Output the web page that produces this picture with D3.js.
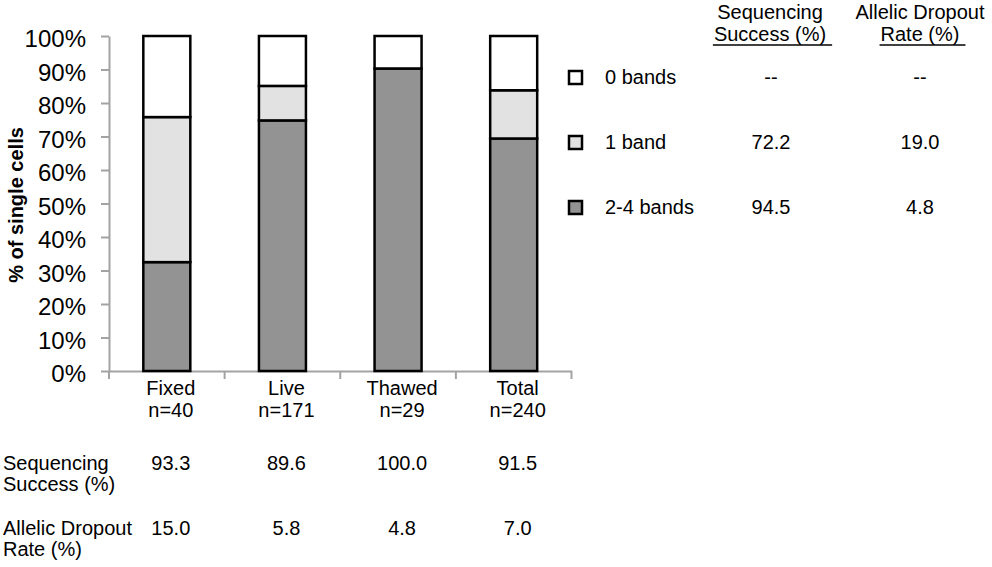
<!DOCTYPE html>
<html>
<head>
<meta charset="utf-8">
<script src="https://cdn.jsdelivr.net/npm/d3@7"></script>
<style>
  body { margin: 0; background: #fff; }
  svg { display: block; font-family: "Liberation Sans", Arial, sans-serif; }
</style>
</head>
<body>
<div class="chart"></div>
<script>
const categories = ['Fixed', 'Live', 'Thawed', 'Total'];
const sampleSizes = ['n=40', 'n=171', 'n=29', 'n=240'];
const twoFourBands = [32.5, 74.8, 90.3, 69.4];
const oneBand = [43.3, 10.3, 0, 14.4];
const zeroBands = [24.2, 14.9, 9.7, 16.2];
const seqSuccess = ['93.3', '89.6', '100.0', '91.5'];
const dropoutRate = ['15.0', '5.8', '4.8', '7.0'];
const yTicks = [0, 10, 20, 30, 40, 50, 60, 70, 80, 90, 100];
const legendLabels = ['0 bands', '1 band', '2-4 bands'];
const legendSeq = ['--', '72.2', '94.5'];
const legendAdo = ['--', '19.0', '4.8'];

const width = 992, height = 567;
const axisColor = '#a3a3a3';
const fills = { two: '#939393', one: '#e1e2e1', zero: '#ffffff' };

function draw_chart() {
    let svg = d3.select('.chart')
        .append('svg')
        .attr('width', width)
        .attr('height', height);

    let x = d3.scaleBand()
        .domain(categories)
        .range([109, 571.5])
        .padding(0);

    let y = d3.scaleLinear()
        .domain([0, 100])
        .range([371, 36]);

    let rows = categories.map((c, i) => ({
        cat: c, two: twoFourBands[i], one: oneBand[i], zero: zeroBands[i]
    }));
    let stack = d3.stack().keys(['two', 'one', 'zero']);
    let series = stack(rows);

    const barW = 47;

    // y axis
    let yAxis = svg.append('g')
        .attr('transform', 'translate(109,0)')
        .call(d3.axisLeft(y).tickValues(yTicks).tickFormat(d => d + '%')
            .tickSizeInner(8).tickSizeOuter(0).tickPadding(15));
    yAxis.select('.domain').attr('stroke', axisColor).attr('stroke-width', 2);
    yAxis.selectAll('.tick line').attr('stroke', axisColor).attr('stroke-width', 2);
    yAxis.selectAll('.tick text')
        .attr('font-size', 24)
        .attr('fill', '#000')
        .attr('font-family', '"Liberation Sans", Arial, sans-serif')
        .attr('dy', '0.45em');

    // x axis
    let xAxis = svg.append('g')
        .attr('transform', 'translate(0,371)')
        .call(d3.axisBottom(x).tickSize(0).tickFormat(''));
    xAxis.select('.domain').attr('stroke', axisColor).attr('stroke-width', 2);

    let bounds = categories.map(c => x(c)).concat([x(categories[categories.length - 1]) + x.bandwidth()]);
    svg.append('g')
        .selectAll('line')
        .data(bounds)
        .join('line')
        .attr('x1', d => d).attr('x2', d => d)
        .attr('y1', 371).attr('y2', 379)
        .attr('stroke', axisColor)
        .attr('stroke-width', 2);

    // bars
    svg.append('g')
        .selectAll('g')
        .data(series)
        .join('g')
        .attr('fill', d => fills[d.key])
        .selectAll('rect')
        .data(d => d.filter(s => s[1] - s[0] > 0))
        .join('rect')
        .attr('x', d => x(d.data.cat) + x.bandwidth() / 2 - barW / 2)
        .attr('y', d => y(d[1]))
        .attr('width', barW)
        .attr('height', d => y(d[0]) - y(d[1]))
        .attr('stroke', '#000')
        .attr('stroke-width', 2.5);

    // category labels
    let lab = svg.append('g')
        .attr('font-size', 20)
        .attr('text-anchor', 'middle')
        .selectAll('text')
        .data(categories)
        .join('text')
        .attr('transform', d => `translate(${x(d) + x.bandwidth() / 2 + 4}, 0)`);
    lab.append('tspan').attr('x', 0).attr('y', 395).text(d => d);
    lab.append('tspan').attr('x', 0).attr('y', 416.5).text((d, i) => sampleSizes[i]);

    // y label
    svg.append('text')
        .attr('transform', 'translate(23,205) rotate(-90)')
        .attr('text-anchor', 'middle')
        .attr('font-size', 20)
        .attr('font-weight', 'bold')
        .text('% of single cells');

    // bottom table
    let tbl = svg.append('g').attr('font-size', 20);
    tbl.append('text')
        .call(t => t.append('tspan').attr('x', 3).attr('y', 470).text('Sequencing'))
        .call(t => t.append('tspan').attr('x', 3).attr('y', 491).text('Success (%)'));
    tbl.append('text')
        .call(t => t.append('tspan').attr('x', 3).attr('y', 535).text('Allelic Dropout'))
        .call(t => t.append('tspan').attr('x', 3).attr('y', 556).text('Rate (%)'));

    tbl.selectAll('text.seq')
        .data(seqSuccess)
        .join('text')
        .attr('class', 'seq')
        .attr('text-anchor', 'middle')
        .attr('x', (d, i) => x(categories[i]) + x.bandwidth() / 2 + 4)
        .attr('y', 470)
        .text(d => d);
    tbl.selectAll('text.ado')
        .data(dropoutRate)
        .join('text')
        .attr('class', 'ado')
        .attr('text-anchor', 'middle')
        .attr('x', (d, i) => x(categories[i]) + x.bandwidth() / 2 + 4)
        .attr('y', 535)
        .text(d => d);

    // legend + side table
    const seqX = 771, adoX = 920;
    let ly = d3.scalePoint().domain(legendLabels).range([77.5, 207.5]);
    let legend = svg.append('g').attr('font-size', 20);
    let items = legend.selectAll('g')
        .data(legendLabels)
        .join('g')
        .attr('transform', d => `translate(0, ${ly(d)})`);
    items.append('rect')
        .attr('x', 569).attr('y', -6.5)
        .attr('width', 13).attr('height', 13)
        .attr('fill', (d, i) => [fills.zero, fills.one, fills.two][i])
        .attr('stroke', '#000')
        .attr('stroke-width', 2.5);
    items.append('text').attr('x', 605).attr('y', 6).text(d => d);
    items.append('text').attr('x', seqX).attr('y', 6).attr('text-anchor', 'middle')
        .text((d, i) => legendSeq[i]);
    items.append('text').attr('x', adoX).attr('y', 6).attr('text-anchor', 'middle')
        .text((d, i) => legendAdo[i]);

    // column headers, second line underlined
    let headers = [
        { l1: 'Sequencing', l2: 'Success (%)', cx: 770 },
        { l1: 'Allelic Dropout', l2: 'Rate (%)', cx: 920 }
    ];
    headers.forEach(h => {
        legend.append('text').attr('x', h.cx).attr('y', 19)
            .attr('text-anchor', 'middle').text(h.l1);
        let t2 = legend.append('text').attr('x', h.cx).attr('y', 41)
            .attr('text-anchor', 'middle').text(h.l2);
        let w = t2.node().getComputedTextLength();
        legend.append('line')
            .attr('x1', h.cx - w / 2 - 1).attr('x2', h.cx + w / 2 + 6)
            .attr('y1', 45).attr('y2', 45)
            .attr('stroke', '#000').attr('stroke-width', 1.5);
    });
}

draw_chart();
</script>
</body>
</html>
